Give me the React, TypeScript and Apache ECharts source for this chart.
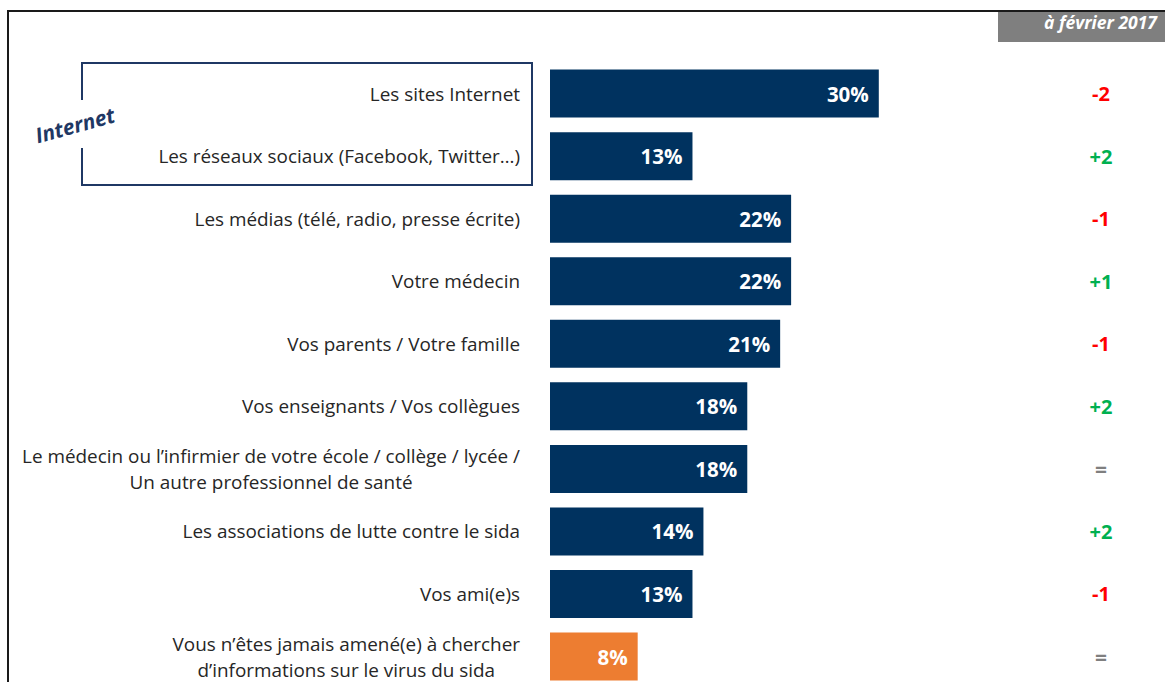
import React, { useEffect, useRef } from "react";
import * as echarts from "echarts";

const categories = [
  "Les sites Internet",
  "Les réseaux sociaux (Facebook, Twitter…)",
  "Les médias (télé, radio, presse écrite)",
  "Votre médecin",
  "Vos parents / Votre famille",
  "Vos enseignants / Vos collègues",
  "Le médecin ou l’infirmier de votre école / collège / lycée /\nUn autre professionnel de santé",
  "Les associations de lutte contre le sida",
  "Vos ami(e)s",
  "Vous n’êtes jamais amené(e) à chercher\nd’informations sur le virus du sida",
];
const values = [30, 13, 22, 22, 21, 18, 18, 14, 13, 8];
const changes = ["-2", "+2", "-1", "+1", "-1", "+2", "=", "+2", "-1", "="];
const headerText = "à février 2017";
const groupLabel = "Internet";

const NAVY = "#00325f";
const ORANGE = "#ed7d31";
const FONT = "'Open Sans', 'Noto Sans', sans-serif";

export default function App() {
  const ref = useRef<HTMLDivElement>(null);
  useEffect(() => {
    if (!ref.current) return;
    const chart = echarts.init(ref.current, null, { renderer: "svg" });
    const top = 62.3;
    const rowH = 62.55;
    const option: any = {
      animation: false,
      backgroundColor: "#ffffff",
      textStyle: { fontFamily: FONT },
      grid: { left: 550, top: top, width: 548, height: rowH * categories.length },
      xAxis: {
        type: "value",
        min: 0,
        max: 50,
        show: false,
      },
      yAxis: [
        {
          type: "category",
          data: categories,
          inverse: true,
          axisLine: { show: false },
          axisTick: { show: false },
          splitLine: { show: false },
          axisLabel: {
            interval: 0,
            margin: 30,
            align: "right",
            formatter: (v: string) =>
              v
                .split("\n")
                .map((l) => "{c|" + l + "}")
                .join("\n"),
            rich: {
              c: {
                align: "center",
                fontFamily: FONT,
                fontSize: 18.9,
                color: "#262626",
                lineHeight: 26,
              },
            },
          },
        },
        {
          type: "category",
          data: categories,
          inverse: true,
          position: "right",
          axisLine: { show: false },
          axisTick: { show: false },
          splitLine: { show: false },
          axisLabel: {
            interval: 0,
            margin: 3,
            align: "center",
            formatter: (_v: string, i: number) => {
              const c = changes[i];
              const k = c.startsWith("-") ? "neg" : c.startsWith("+") ? "pos" : "eq";
              return "{" + k + "|" + c + "}";
            },
            rich: {
              neg: { color: "#ff0000", fontWeight: "bold", fontSize: 20, fontFamily: FONT },
              pos: { color: "#00b050", fontWeight: "bold", fontSize: 20, fontFamily: FONT },
              eq: { color: "#7f7f7f", fontWeight: "bold", fontSize: 21, fontFamily: FONT },
            },
          },
        },
      ],
      series: [
        {
          type: "bar",
          yAxisIndex: 0,
          barWidth: 48,
          data: values.map((v, i) => ({
            value: v,
            itemStyle: { color: i === values.length - 1 ? ORANGE : NAVY },
          })),
          label: {
            show: true,
            position: "insideRight",
            distance: 10,
            formatter: "{c}%",
            color: "#ffffff",
            fontWeight: "bold",
            fontSize: 20.5,
            fontFamily: FONT,
          },
        },
      ],
      graphic: [
        {
          type: "line",
          shape: { x1: 7, y1: 11, x2: 1165, y2: 11 },
          style: { stroke: "#1a1a1a", lineWidth: 2 },
        },
        {
          type: "line",
          shape: { x1: 8, y1: 10, x2: 8, y2: 700 },
          style: { stroke: "#1a1a1a", lineWidth: 2 },
        },
        {
          type: "rect",
          shape: { x: 998, y: 12, width: 167, height: 30 },
          style: { fill: "#7f7f7f" },
        },
        {
          type: "text",
          x: 1157,
          y: 22,
          style: {
            text: headerText,
            fill: "#ffffff",
            font: "italic bold 17.5px " + FONT,
            align: "right",
            verticalAlign: "middle",
          },
        },
        {
          type: "polyline",
          shape: {
            points: [
              [82, 100],
              [82, 63],
              [532, 63],
              [532, 185],
              [82, 185],
              [82, 148],
            ],
          },
          style: { stroke: "#1f3864", lineWidth: 2, fill: null },
        },
        {
          type: "text",
          x: 75,
          y: 125,
          rotation: 0.27,
          style: {
            text: groupLabel,
            fill: "#1f3864",
            font: "italic bold 21px " + FONT,
            align: "center",
            verticalAlign: "middle",
          },
        },
      ],
    };
    chart.setOption(option);
    return () => chart.dispose();
  }, []);
  return (
    <div
      ref={ref}
      style={{ position: "fixed", left: 0, top: 0, width: 1165, height: 700 }}
    />
  );
}
